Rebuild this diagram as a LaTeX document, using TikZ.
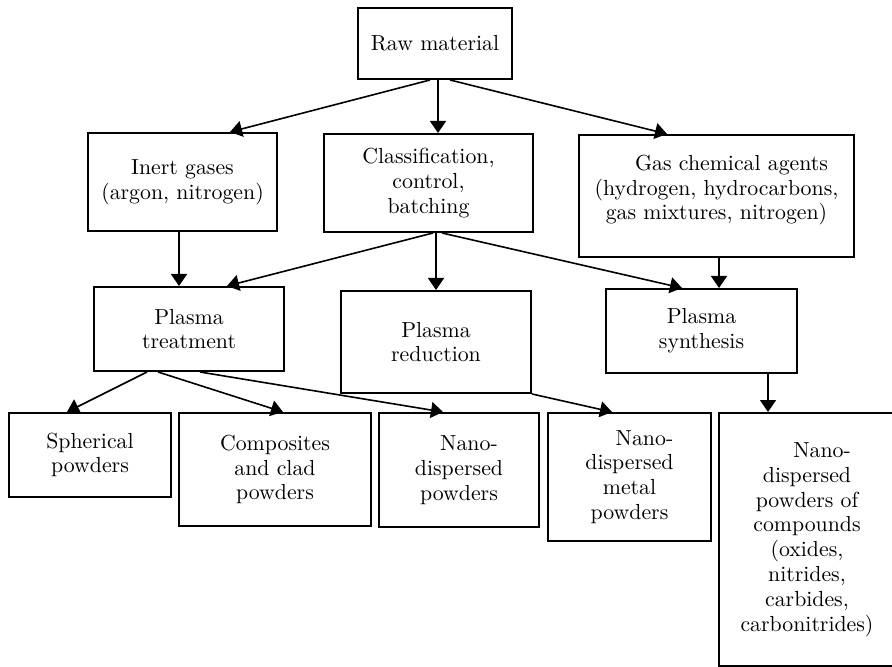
\documentclass[tikz,border=0pt]{standalone}
\usepackage{tikz}
\usetikzlibrary{calc,arrows.meta}

\begin{document}
\begin{tikzpicture}[x=0.5pt, y=-0.5pt,
		box/.style={draw, line width=1pt, inner sep=0pt, align=center,
			font=\fontsize{10.9}{12.4}\selectfont},
		arr/.style={line width=0.8pt, -{Triangle[length=6pt,width=8pt]}}]
		%%%%% START %%%%%
		\clip (0, 0) rectangle (892, 667);
		\fill[white] (0, 0) rectangle (892, 667);
		
		\node[box, minimum width=77pt, minimum height=35.5pt] (raw) at (435, 43.5) {Raw material};
		
		\node[box, minimum width=94.5pt, minimum height=49pt] (inert) at (182.5, 182) {Inert gases\\(argon, nitrogen)};
		\node[box, minimum width=104.5pt, minimum height=49pt] (class) at (428.5, 183) {Classification,\\control,\\batching};
		\node[box, minimum width=137.5pt, minimum height=61pt, text depth=8.5pt] (gas) at (716.5, 196) {\hspace*{15pt}Gas chemical agents\\(hydrogen, hydrocarbons,\\gas mixtures, nitrogen)};
		
		\node[box, minimum width=95pt, minimum height=42pt] (treat) at (189, 329) {Plasma\\treatment};
		\node[box, minimum width=95pt, minimum height=51pt] (reduc) at (436, 342) {Plasma\\reduction};
		\node[box, minimum width=95.5pt, minimum height=42pt] (synth) at (701.5, 331) {Plasma\\synthesis};
		
		\node[box, minimum width=81pt, minimum height=42pt] (spher) at (90, 455) {Spherical\\powders};
		\node[box, minimum width=96pt, minimum height=56.5pt] (compo) at (275, 469.5) {Composites\\and clad\\powders};
		\node[box, minimum width=80pt, minimum height=57pt] (nano) at (459, 470) {\hspace*{10pt}Nano-\\dispersed\\powders};
		\node[box, minimum width=81.5pt, minimum height=64pt] (metal) at (629.5, 477) {\hspace*{15pt}Nano-\\dispersed\\metal\\powders};
		\node[box, minimum width=88pt, minimum height=126.5pt] (comp) at (807, 539.5) {\hspace*{15pt}Nano-\\dispersed\\powders of\\compounds\\(oxides,\\nitrides,\\carbides,\\carbonitrides)};
		
		% from raw material
		\draw[arr] ($(raw.south)+(-5, 0)$) -- ($(inert.north)+(47.5, 0)$);
		\draw[arr] ($(raw.south)+(3, 0)$) -- ($(class.north)+(9.5, 0)$);
		\draw[arr] ($(raw.south)+(15, 0)$) -- ($(gas.north)+(-49.5, 0)$);
		
		% second row
		\draw[arr] ($(inert.south)+(-3.5, 0)$) -- ($(treat.north)+(-10, 0)$);
		\draw[arr] ($(class.south)+(4.5, 0)$) -- ($(treat.north)+(38, 0)$);
		\draw[arr] ($(class.south)+(7.5, 0)$) -- (reduc.north);
		\draw[arr] ($(class.south)+(13.5, 0)$) -- ($(synth.north)+(-19.5, 0)$);
		\draw[arr] ($(gas.south)+(2.5, 0)$) -- ($(synth.north)+(17.5, 0)$);
		
		% products
		\draw[arr] ($(treat.south)+(-42, 0)$) -- ($(spher.north)+(-23, 0)$);
		\draw[arr] ($(treat.south)+(-31, 0)$) -- ($(compo.north)+(8, 0)$);
		\draw[arr] ($(treat.south)+(11, 0)$) -- ($(nano.north)+(-16, 0)$);
		\draw[arr] (reduc.south east) -- ($(metal.north)+(-17.5, 0)$);
		\draw[arr] ($(synth.south)+(66.5, 0)$) -- ($(comp.north)+(-39, 0)$);
		%%%%% END %%%%%
	\end{tikzpicture}
\end{document}
